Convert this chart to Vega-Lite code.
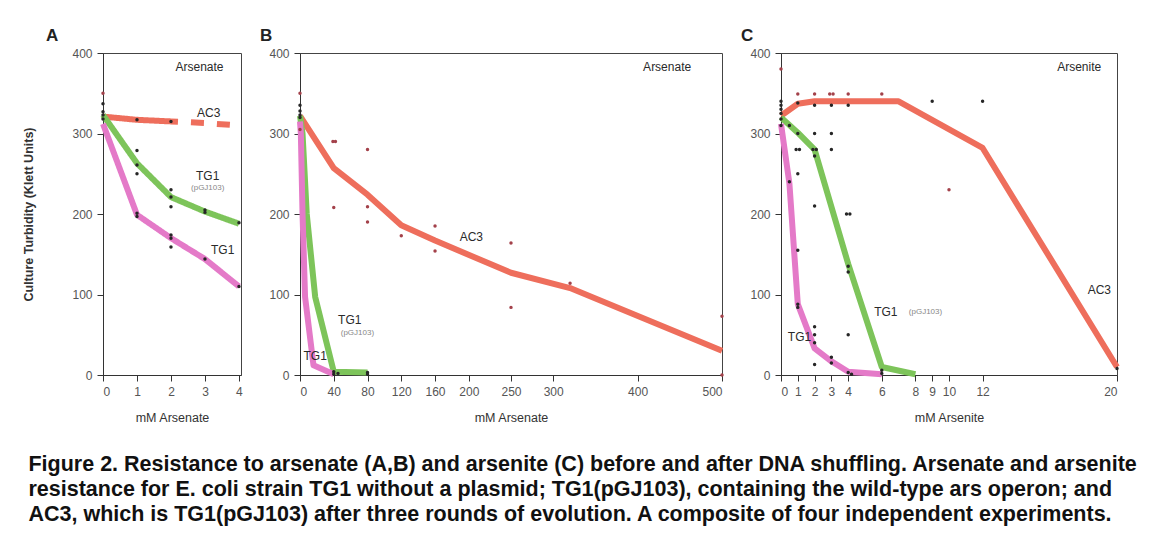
{
  "$schema": "https://vega.github.io/schema/vega-lite/v6.json",
  "background": "white",
  "padding": {"left": 22, "top": 26, "right": 5, "bottom": 5},
  "datasets": {
    "curves": [
      {"panel": "A", "strain": "AC3", "part": "solid", "x": 0, "y": 321},
      {"panel": "A", "strain": "AC3", "part": "solid", "x": 1, "y": 317},
      {"panel": "A", "strain": "AC3", "part": "solid", "x": 2, "y": 315},
      {"panel": "A", "strain": "AC3", "part": "dashed", "x": 2, "y": 315},
      {"panel": "A", "strain": "AC3", "part": "dashed", "x": 3, "y": 313},
      {"panel": "A", "strain": "AC3", "part": "dashed", "x": 4, "y": 310},
      {"panel": "A", "strain": "TG1(pGJ103)", "part": "solid", "x": 0, "y": 323},
      {"panel": "A", "strain": "TG1(pGJ103)", "part": "solid", "x": 1, "y": 263},
      {"panel": "A", "strain": "TG1(pGJ103)", "part": "solid", "x": 2, "y": 221},
      {"panel": "A", "strain": "TG1(pGJ103)", "part": "solid", "x": 3, "y": 203},
      {"panel": "A", "strain": "TG1(pGJ103)", "part": "solid", "x": 4, "y": 188},
      {"panel": "A", "strain": "TG1", "part": "solid", "x": 0, "y": 312},
      {"panel": "A", "strain": "TG1", "part": "solid", "x": 1, "y": 199},
      {"panel": "A", "strain": "TG1", "part": "solid", "x": 2, "y": 170},
      {"panel": "A", "strain": "TG1", "part": "solid", "x": 3, "y": 144},
      {"panel": "A", "strain": "TG1", "part": "solid", "x": 4, "y": 110},
      {"panel": "B", "strain": "AC3", "part": "solid", "x": 0, "y": 322},
      {"panel": "B", "strain": "AC3", "part": "solid", "x": 40, "y": 257},
      {"panel": "B", "strain": "AC3", "part": "solid", "x": 80, "y": 224},
      {"panel": "B", "strain": "AC3", "part": "solid", "x": 120, "y": 186},
      {"panel": "B", "strain": "AC3", "part": "solid", "x": 160, "y": 167},
      {"panel": "B", "strain": "AC3", "part": "solid", "x": 250, "y": 127},
      {"panel": "B", "strain": "AC3", "part": "solid", "x": 320, "y": 108},
      {"panel": "B", "strain": "AC3", "part": "solid", "x": 500, "y": 30},
      {"panel": "B", "strain": "TG1(pGJ103)", "part": "solid", "x": 0, "y": 322},
      {"panel": "B", "strain": "TG1(pGJ103)", "part": "solid", "x": 3, "y": 300},
      {"panel": "B", "strain": "TG1(pGJ103)", "part": "solid", "x": 8, "y": 200},
      {"panel": "B", "strain": "TG1(pGJ103)", "part": "solid", "x": 18, "y": 97},
      {"panel": "B", "strain": "TG1(pGJ103)", "part": "solid", "x": 40, "y": 4},
      {"panel": "B", "strain": "TG1(pGJ103)", "part": "solid", "x": 80, "y": 3},
      {"panel": "B", "strain": "TG1", "part": "solid", "x": 0, "y": 315},
      {"panel": "B", "strain": "TG1", "part": "solid", "x": 1, "y": 300},
      {"panel": "B", "strain": "TG1", "part": "solid", "x": 3, "y": 200},
      {"panel": "B", "strain": "TG1", "part": "solid", "x": 6, "y": 97},
      {"panel": "B", "strain": "TG1", "part": "solid", "x": 16, "y": 12},
      {"panel": "B", "strain": "TG1", "part": "solid", "x": 40, "y": 1},
      {"panel": "C", "strain": "AC3", "part": "solid", "x": 0, "y": 322},
      {"panel": "C", "strain": "AC3", "part": "solid", "x": 1, "y": 337},
      {"panel": "C", "strain": "AC3", "part": "solid", "x": 2, "y": 340},
      {"panel": "C", "strain": "AC3", "part": "solid", "x": 7, "y": 340},
      {"panel": "C", "strain": "AC3", "part": "solid", "x": 12, "y": 282},
      {"panel": "C", "strain": "AC3", "part": "solid", "x": 20, "y": 10},
      {"panel": "C", "strain": "TG1(pGJ103)", "part": "solid", "x": 0, "y": 320},
      {"panel": "C", "strain": "TG1(pGJ103)", "part": "solid", "x": 1, "y": 301},
      {"panel": "C", "strain": "TG1(pGJ103)", "part": "solid", "x": 2, "y": 280},
      {"panel": "C", "strain": "TG1(pGJ103)", "part": "solid", "x": 4, "y": 138},
      {"panel": "C", "strain": "TG1(pGJ103)", "part": "solid", "x": 6, "y": 10},
      {"panel": "C", "strain": "TG1(pGJ103)", "part": "solid", "x": 8, "y": 1},
      {"panel": "C", "strain": "TG1", "part": "solid", "x": 0, "y": 312},
      {"panel": "C", "strain": "TG1", "part": "solid", "x": 0.5, "y": 238},
      {"panel": "C", "strain": "TG1", "part": "solid", "x": 1, "y": 88},
      {"panel": "C", "strain": "TG1", "part": "solid", "x": 2, "y": 33},
      {"panel": "C", "strain": "TG1", "part": "solid", "x": 3, "y": 17},
      {"panel": "C", "strain": "TG1", "part": "solid", "x": 4, "y": 4},
      {"panel": "C", "strain": "TG1", "part": "solid", "x": 6, "y": 1}
    ],
    "dots": [
      {"panel": "A", "group": "AC3", "x": 0, "y": 350},
      {"panel": "A", "group": "other", "x": 0, "y": 337},
      {"panel": "A", "group": "other", "x": 0, "y": 327},
      {"panel": "A", "group": "other", "x": 0, "y": 323},
      {"panel": "A", "group": "other", "x": 0, "y": 318},
      {"panel": "A", "group": "other", "x": 1, "y": 317},
      {"panel": "A", "group": "other", "x": 1, "y": 279},
      {"panel": "A", "group": "other", "x": 1, "y": 261},
      {"panel": "A", "group": "other", "x": 1, "y": 250},
      {"panel": "A", "group": "other", "x": 1, "y": 201},
      {"panel": "A", "group": "other", "x": 1, "y": 197},
      {"panel": "A", "group": "other", "x": 2, "y": 315},
      {"panel": "A", "group": "other", "x": 2, "y": 230},
      {"panel": "A", "group": "other", "x": 2, "y": 221},
      {"panel": "A", "group": "other", "x": 2, "y": 209},
      {"panel": "A", "group": "other", "x": 2, "y": 174},
      {"panel": "A", "group": "other", "x": 2, "y": 170},
      {"panel": "A", "group": "other", "x": 2, "y": 159},
      {"panel": "A", "group": "other", "x": 3, "y": 205},
      {"panel": "A", "group": "other", "x": 3, "y": 202},
      {"panel": "A", "group": "other", "x": 3, "y": 144},
      {"panel": "A", "group": "other", "x": 4, "y": 189},
      {"panel": "A", "group": "other", "x": 4, "y": 110},
      {"panel": "B", "group": "AC3", "x": 0, "y": 350},
      {"panel": "B", "group": "other", "x": 0, "y": 335},
      {"panel": "B", "group": "other", "x": 0, "y": 328},
      {"panel": "B", "group": "other", "x": 0, "y": 323},
      {"panel": "B", "group": "other", "x": 0, "y": 320},
      {"panel": "B", "group": "AC3", "x": 0, "y": 305},
      {"panel": "B", "group": "AC3", "x": 39, "y": 290},
      {"panel": "B", "group": "AC3", "x": 42, "y": 290},
      {"panel": "B", "group": "AC3", "x": 40, "y": 208},
      {"panel": "B", "group": "AC3", "x": 80, "y": 280},
      {"panel": "B", "group": "AC3", "x": 80, "y": 209},
      {"panel": "B", "group": "AC3", "x": 80, "y": 190},
      {"panel": "B", "group": "AC3", "x": 120, "y": 173},
      {"panel": "B", "group": "AC3", "x": 160, "y": 185},
      {"panel": "B", "group": "AC3", "x": 160, "y": 154},
      {"panel": "B", "group": "AC3", "x": 250, "y": 164},
      {"panel": "B", "group": "AC3", "x": 250, "y": 84},
      {"panel": "B", "group": "AC3", "x": 320, "y": 114},
      {"panel": "B", "group": "AC3", "x": 500, "y": 73},
      {"panel": "B", "group": "AC3", "x": 500, "y": 0},
      {"panel": "B", "group": "other", "x": 40, "y": 4},
      {"panel": "B", "group": "other", "x": 40, "y": 1},
      {"panel": "B", "group": "other", "x": 45, "y": 2},
      {"panel": "B", "group": "other", "x": 80, "y": 3},
      {"panel": "B", "group": "other", "x": 80, "y": 1},
      {"panel": "C", "group": "AC3", "x": 0, "y": 380},
      {"panel": "C", "group": "other", "x": 0, "y": 340},
      {"panel": "C", "group": "other", "x": 0, "y": 335},
      {"panel": "C", "group": "other", "x": 0, "y": 330},
      {"panel": "C", "group": "other", "x": 0, "y": 325},
      {"panel": "C", "group": "other", "x": 0, "y": 318},
      {"panel": "C", "group": "other", "x": 0, "y": 310},
      {"panel": "C", "group": "other", "x": 0.5, "y": 310},
      {"panel": "C", "group": "other", "x": 0.5, "y": 240},
      {"panel": "C", "group": "AC3", "x": 1, "y": 349},
      {"panel": "C", "group": "other", "x": 1, "y": 338},
      {"panel": "C", "group": "other", "x": 1, "y": 300},
      {"panel": "C", "group": "other", "x": 0.9, "y": 280},
      {"panel": "C", "group": "other", "x": 1.1, "y": 280},
      {"panel": "C", "group": "other", "x": 1, "y": 250},
      {"panel": "C", "group": "other", "x": 1, "y": 155},
      {"panel": "C", "group": "other", "x": 1, "y": 88},
      {"panel": "C", "group": "other", "x": 1, "y": 84},
      {"panel": "C", "group": "AC3", "x": 2, "y": 349},
      {"panel": "C", "group": "other", "x": 2, "y": 335},
      {"panel": "C", "group": "other", "x": 2, "y": 300},
      {"panel": "C", "group": "other", "x": 1.9, "y": 280},
      {"panel": "C", "group": "other", "x": 2.1, "y": 280},
      {"panel": "C", "group": "other", "x": 2, "y": 272},
      {"panel": "C", "group": "other", "x": 2, "y": 210},
      {"panel": "C", "group": "other", "x": 2, "y": 60},
      {"panel": "C", "group": "other", "x": 2, "y": 50},
      {"panel": "C", "group": "other", "x": 2, "y": 40},
      {"panel": "C", "group": "other", "x": 2, "y": 13},
      {"panel": "C", "group": "AC3", "x": 2.9, "y": 349},
      {"panel": "C", "group": "AC3", "x": 3.1, "y": 349},
      {"panel": "C", "group": "other", "x": 3, "y": 335},
      {"panel": "C", "group": "other", "x": 3, "y": 300},
      {"panel": "C", "group": "other", "x": 3, "y": 280},
      {"panel": "C", "group": "other", "x": 3, "y": 22},
      {"panel": "C", "group": "other", "x": 3, "y": 15},
      {"panel": "C", "group": "AC3", "x": 4, "y": 349},
      {"panel": "C", "group": "other", "x": 4, "y": 335},
      {"panel": "C", "group": "other", "x": 3.9, "y": 200},
      {"panel": "C", "group": "other", "x": 4.1, "y": 200},
      {"panel": "C", "group": "other", "x": 4, "y": 135},
      {"panel": "C", "group": "other", "x": 4, "y": 128},
      {"panel": "C", "group": "other", "x": 4, "y": 50},
      {"panel": "C", "group": "other", "x": 4, "y": 3},
      {"panel": "C", "group": "other", "x": 4.2, "y": 1},
      {"panel": "C", "group": "AC3", "x": 6, "y": 349},
      {"panel": "C", "group": "other", "x": 6, "y": 6},
      {"panel": "C", "group": "other", "x": 6, "y": 2},
      {"panel": "C", "group": "other", "x": 9, "y": 340},
      {"panel": "C", "group": "AC3", "x": 10, "y": 230},
      {"panel": "C", "group": "other", "x": 12, "y": 340},
      {"panel": "C", "group": "other", "x": 20, "y": 8}
    ],
    "labels": [
      {"panel": "A", "kind": "head", "text": "Arsenate", "x": 2.84, "y": 382},
      {"panel": "A", "kind": "main", "text": "AC3", "x": 3.11, "y": 325},
      {"panel": "A", "kind": "main", "text": "TG1", "x": 3.08, "y": 247},
      {"panel": "A", "kind": "sub", "text": "(pGJ103)", "x": 3.08, "y": 232},
      {"panel": "A", "kind": "main", "text": "TG1", "x": 3.52, "y": 155},
      {"panel": "B", "kind": "head", "text": "Arsenate", "x": 435, "y": 383},
      {"panel": "B", "kind": "main", "text": "AC3", "x": 203, "y": 172},
      {"panel": "B", "kind": "main", "text": "TG1", "x": 59, "y": 68},
      {"panel": "B", "kind": "sub", "text": "(pGJ103)", "x": 68, "y": 52},
      {"panel": "B", "kind": "main", "text": "TG1", "x": 18, "y": 24},
      {"panel": "C", "kind": "head", "text": "Arsenite", "x": 17.75, "y": 383},
      {"panel": "C", "kind": "main", "text": "AC3", "x": 18.95, "y": 105},
      {"panel": "C", "kind": "main", "text": "TG1", "x": 6.24, "y": 78},
      {"panel": "C", "kind": "sub", "text": "(pGJ103)", "x": 8.6, "y": 78},
      {"panel": "C", "kind": "main", "text": "TG1", "x": 1.1, "y": 47}
    ]
  },
  "title": {
    "text": [
      "Figure 2. Resistance to arsenate (A,B) and arsenite (C) before and after DNA shuffling. Arsenate and arsenite",
      "resistance for E. coli strain TG1 without a plasmid; TG1(pGJ103), containing the wild-type ars operon; and",
      "AC3, which is TG1(pGJ103) after three rounds of evolution. A composite of four independent experiments."
    ],
    "orient": "bottom",
    "anchor": "start",
    "frame": "bounds",
    "font": "Liberation Sans",
    "fontSize": 21.5,
    "fontWeight": "bold",
    "lineHeight": 25,
    "offset": 30,
    "dx": 6,
    "color": "#111"
  },
  "spacing": 59,
  "bounds": "flush",
  "hconcat": [
    {
      "width": 138,
      "height": 322,
      "title": {"text": "A", "anchor": "start", "frame": "group", "dx": -57, "fontSize": 17, "fontWeight": "bold", "offset": 2},
      "encoding": {
        "x": {"field": "x", "type": "quantitative", "scale": {"domain": [0, 4.06], "nice": false, "zero": false},
              "axis": {"values": [0, 1, 2, 3, 4], "title": "mM Arsenate"}},
        "y": {"field": "y", "type": "quantitative", "scale": {"domain": [0, 400], "nice": false},
              "axis": {"values": [0, 100, 200, 300, 400], "title": "Culture Turbidity (Klett Units)"}}
      },
      "layer": [
        {"data": {"name": "curves"}, "transform": [{"filter": "datum.panel === 'A'"}],
         "mark": {"type": "line", "strokeWidth": 6, "strokeCap": "butt", "strokeJoin": "round", "strokeDashOffset": 6},
         "encoding": {
           "color": {"field": "strain", "type": "nominal", "scale": {"domain": ["AC3", "TG1(pGJ103)", "TG1"], "range": ["#ee6e5c", "#7dc45a", "#e47ac8"]}, "legend": null},
           "strokeDash": {"field": "part", "type": "nominal", "scale": {"domain": ["solid", "dashed"], "range": [[1, 0], [13, 13]]}, "legend": null}
         }},
        {"data": {"name": "dots"}, "transform": [{"filter": "datum.panel === 'A'"}],
         "mark": {"type": "circle", "size": 12, "opacity": 1},
         "encoding": {"fill": {"field": "group", "type": "nominal", "scale": {"domain": ["AC3", "other"], "range": ["#a3414a", "#262626"]}, "legend": null}}},
        {"data": {"name": "labels"}, "transform": [{"filter": "datum.panel === 'A' && datum.kind !== 'sub'"}],
         "mark": {"type": "text", "fontSize": 12, "font": "Liberation Sans", "color": "#2a2a2a"},
         "encoding": {"text": {"field": "text"}}},
        {"data": {"name": "labels"}, "transform": [{"filter": "datum.panel === 'A' && datum.kind === 'sub'"}],
         "mark": {"type": "text", "fontSize": 8, "font": "Liberation Sans", "color": "#888"},
         "encoding": {"text": {"field": "text"}}}
      ]
    },
    {
      "width": 422,
      "height": 322,
      "title": {"text": "B", "anchor": "start", "frame": "group", "dx": -40, "fontSize": 17, "fontWeight": "bold", "offset": 2},
      "encoding": {
        "x": {"field": "x", "type": "quantitative", "scale": {"domain": [0, 500], "nice": false, "zero": false},
              "axis": {"values": [0, 40, 80, 120, 160, 200, 250, 300, 400, 500], "title": "mM Arsenate"}},
        "y": {"field": "y", "type": "quantitative", "scale": {"domain": [0, 400], "nice": false},
              "axis": {"values": [0, 100, 200, 300, 400], "title": null}}
      },
      "layer": [
        {"data": {"name": "curves"}, "transform": [{"filter": "datum.panel === 'B'"}],
         "mark": {"type": "line", "strokeWidth": 6, "strokeCap": "butt", "strokeJoin": "round"},
         "encoding": {
           "color": {"field": "strain", "type": "nominal", "scale": {"domain": ["AC3", "TG1(pGJ103)", "TG1"], "range": ["#ee6e5c", "#7dc45a", "#e47ac8"]}, "legend": null}
         }},
        {"data": {"name": "dots"}, "transform": [{"filter": "datum.panel === 'B'"}],
         "mark": {"type": "circle", "size": 12, "opacity": 1},
         "encoding": {"fill": {"field": "group", "type": "nominal", "scale": {"domain": ["AC3", "other"], "range": ["#a3414a", "#262626"]}, "legend": null}}},
        {"data": {"name": "labels"}, "transform": [{"filter": "datum.panel === 'B' && datum.kind !== 'sub'"}],
         "mark": {"type": "text", "fontSize": 12, "font": "Liberation Sans", "color": "#2a2a2a"},
         "encoding": {"text": {"field": "text"}}},
        {"data": {"name": "labels"}, "transform": [{"filter": "datum.panel === 'B' && datum.kind === 'sub'"}],
         "mark": {"type": "text", "fontSize": 8, "font": "Liberation Sans", "color": "#888"},
         "encoding": {"text": {"field": "text"}}}
      ]
    },
    {
      "width": 336,
      "height": 322,
      "title": {"text": "C", "anchor": "start", "frame": "group", "dx": -40, "fontSize": 17, "fontWeight": "bold", "offset": 2},
      "encoding": {
        "x": {"field": "x", "type": "quantitative", "scale": {"domain": [0, 20], "nice": false, "zero": false},
              "axis": {"values": [0, 1, 2, 3, 4, 6, 8, 9, 10, 12, 20], "title": "mM Arsenite"}},
        "y": {"field": "y", "type": "quantitative", "scale": {"domain": [0, 400], "nice": false},
              "axis": {"values": [0, 100, 200, 300, 400], "title": null}}
      },
      "layer": [
        {"data": {"name": "curves"}, "transform": [{"filter": "datum.panel === 'C'"}],
         "mark": {"type": "line", "strokeWidth": 6, "strokeCap": "butt", "strokeJoin": "round"},
         "encoding": {
           "color": {"field": "strain", "type": "nominal", "scale": {"domain": ["AC3", "TG1(pGJ103)", "TG1"], "range": ["#ee6e5c", "#7dc45a", "#e47ac8"]}, "legend": null}
         }},
        {"data": {"name": "dots"}, "transform": [{"filter": "datum.panel === 'C'"}],
         "mark": {"type": "circle", "size": 12, "opacity": 1},
         "encoding": {"fill": {"field": "group", "type": "nominal", "scale": {"domain": ["AC3", "other"], "range": ["#c4544e", "#262626"]}, "legend": null}}},
        {"data": {"name": "labels"}, "transform": [{"filter": "datum.panel === 'C' && datum.kind !== 'sub'"}],
         "mark": {"type": "text", "fontSize": 12, "font": "Liberation Sans", "color": "#2a2a2a"},
         "encoding": {"text": {"field": "text"}}},
        {"data": {"name": "labels"}, "transform": [{"filter": "datum.panel === 'C' && datum.kind === 'sub'"}],
         "mark": {"type": "text", "fontSize": 8, "font": "Liberation Sans", "color": "#888"},
         "encoding": {"text": {"field": "text"}}}
      ]
    }
  ],
  "config": {
    "view": {"stroke": "#444", "strokeWidth": 1},
    "title": {"font": "Liberation Sans", "color": "#222"},
    "axis": {
      "grid": false,
      "domainColor": "#333",
      "tickColor": "#333",
      "tickSize": 6,
      "labelPadding": 5,
      "labelFont": "Liberation Sans",
      "labelFontSize": 12,
      "labelColor": "#555",
      "titleFont": "Liberation Sans",
      "titleFontSize": 12.5,
      "titleFontWeight": "normal",
      "titleColor": "#333"
    },
    "axisX": {"titlePadding": 14},
    "axisY": {"titlePadding": 36, "titleFontWeight": "bold", "titleColor": "#333"}
  }
}
